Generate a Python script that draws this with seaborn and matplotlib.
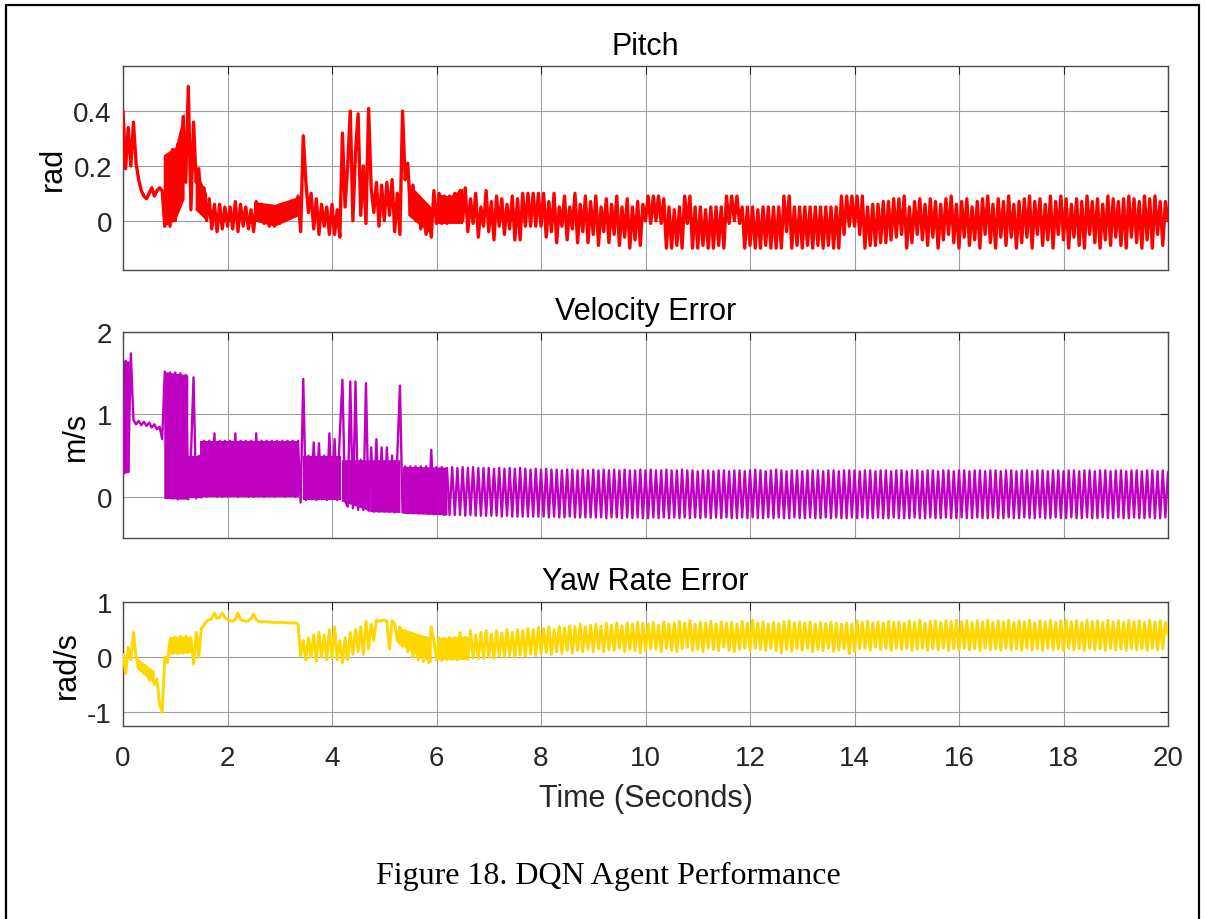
import numpy as np
import pandas as pd
import seaborn as sns
import matplotlib.pyplot as plt
from matplotlib.lines import Line2D

# sample times, 0.05 s step
time_s = np.linspace(0, 20, 401)

# values, in hundredths (one line = one second)
pitch_c = (
    [40, 19, 34, 20, 36, 21, 15, 11, 9, 8, 10, 12, 9, 11, 12, 11, -2, 24, -2, 26] +
    [0, 28, 6, 38, 14, 49, 4, 36, 14, 19, 4, 12, 0, 8, -3, 6, -4, 6, -3, 5] +
    [-2, 5, -3, 7, -4, 6, -2, 5, -3, 4, -4, 7, 0, 6, -1, 5, -2, 5, -2, 5] +
    [-1, 6, 0, 6, 1, 7, 2, 9, -4, 31, 14, 3, 10, -3, 8, -5, 6, -2, 5, -5] +
    [6, -5, 4, -6, 32, 5, 20, 40, 0, 25, 39, 2, 20, -1, 41, 12, 3, 14, -2, 13] +
    [0, 14, 2, 15, -4, 10, -5, 40, 15, 21, 3, 13, 0, 9, -3, 6, -5, 4, -6, 11] +
    [-1, 10, -1, 9, -1, 9, 0, 10, 0, 11, 0, 12, -4, 8, -1, 10, -6, 5, -2, 11] +
    [-4, 7, -7, 9, -2, 8, -5, 6, -3, 9, -7, 8, -7, 10, -2, 10, -2, 10, -2, 10] +
    [-2, 10, -6, 7, -4, 10, -8, 5, -2, 9, -7, 5, -3, 10, -8, 6, -4, 9, -8, 7] +
    [-5, 9, -9, 5, -4, 8, -8, 6, -5, 9, -9, 5, -6, 8, -10, 5, -7, 7, -9, 6] +
    [0, 9, -1, 9, 0, 9, -1, 8, -10, 5, -10, 4, -9, 5, -10, 9, -1, 9, -10, 5] +
    [-10, 5, -9, 4, -10, 5, -10, 5, -9, 5, -10, 9, -1, 9, 0, 9, -1, 5, -10, 5] +
    [-9, 5, -10, 4, -10, 5, -9, 5, -10, 5, -10, 5, -10, 9, -4, 9, -10, 5, -9, 5] +
    [-10, 5, -9, 5, -10, 5, -9, 5, -10, 5, -9, 5, -10, 5, -10, 9, -5, 9, -2, 9] +
    [-2, 9, -5, 9, -10, 5, -9, 6, -9, 6, -8, 7, -8, 7, -7, 8, -6, 8, -5, 9] +
    [-10, 5, -8, 7, -5, 8, -7, 6, -9, 8, -6, 7, -10, 6, -7, 8, -5, 9, -8, 6] +
    [-10, 7, -6, 8, -9, 5, -7, 7, -10, 8, -5, 9, -8, 6, -10, 8, -6, 7, -9, 9] +
    [-6, 6, -10, 7, -8, 8, -6, 9, -10, 7, -5, 8, -9, 6, -7, 9, -10, 7, -5, 9] +
    [-7, 8, -10, 6, -6, 8, -9, 7, -10, 9, -5, 7, -8, 8, -10, 6, -7, 9, -9, 8] +
    [-6, 7, -9, 8, -10, 9, -6, 8, -8, 7, -10, 9, -7, 8, -10, 9, -5, 7, -9, 7] +
    [0]
)

velocity_c = (
    [25, 165, 30, 174, 93, 88, 92, 87, 91, 86, 90, 84, 88, 82, 85, 70, 152, 2, 151, -2] +
    [151, -3, 150, -2, 148, -3, 49, 145, -2, 50, -1, 68, 0, 68, 1, 77, 0, 68, 0, 68] +
    [0, 68, 1, 77, 0, 68, 1, 68, 0, 68, 0, 77, 1, 68, 0, 68, 1, 68, 0, 68] +
    [1, 68, 0, 68, 1, 68, 0, 68, -7, 143, -4, 50, -3, 66, -4, 65, -3, 50, -4, 77] +
    [-3, 70, -4, 77, 142, -5, -12, 140, -14, 140, -16, 45, -16, 138, -17, 60, -18, 70, -18, 60] +
    [-18, 60, -18, 50, -19, 50, 135, -19, 37, -20, 37, -20, 37, -20, 37, -20, 37, -21, 57, -21] +
    [36, -21, 36, -22, 35, -22, 36, -22, 35, -22, 36, -23, 35, -22, 36, -23, 35, -23, 35, -23] +
    [35, -23, 34, -23, 35, -24, 34, -23, 35, -24, 34, -24, 35, -24, 34, -24, 33, -24, 34, -24] +
    [33, -24, 34, -25, 33, -24, 33, -25, 32, -25, 33, -24, 33, -25, 32, -25, 33, -25, 32, -25] +
    [33, -25, 32, -25, 33, -26, 32, -25, 33, -25, 32, -26, 33, -25, 32, -26, 32, -25, 33, -26] +
    [32, -26, 33, -25, 32, -26, 32, -25, 33, -26, 32, -25, 32, -26, 33, -25, 32, -26, 32, -25] +
    [31, -26, 32, -25, 32, -26, 31, -25, 32, -26, 32, -25, 31, -26, 32, -26, 32, -25, 31, -26] +
    [32, -25, 33, -26, 32, -26, 31, -25, 32, -26, 33, -25, 32, -26, 31, -26, 32, -25, 32, -26] +
    [31, -26, 32, -25, 32, -26, 32, -26, 31, -25, 32, -26, 32, -25, 31, -26, 32, -26, 32, -25] +
    [32, -26, 31, -25, 32, -26, 32, -26, 31, -25, 32, -26, 32, -26, 31, -25, 32, -26, 32, -26] +
    [31, -26, 32, -25, 32, -26, 31, -26, 32, -25, 32, -26, 31, -26, 32, -25, 32, -26, 31, -26] +
    [32, -25, 32, -26, 31, -26, 32, -25, 32, -26, 31, -26, 32, -25, 32, -26, 31, -26, 32, -25] +
    [32, -26, 31, -26, 32, -25, 32, -26, 31, -26, 32, -25, 32, -26, 31, -26, 32, -25, 32, -26] +
    [31, -26, 32, -25, 32, -26, 31, -26, 32, -25, 32, -26, 31, -26, 32, -25, 32, -26, 31, -26] +
    [32, -25, 32, -26, 31, -26, 32, -25, 32, -26, 31, -26, 32, -25, 32, -26, 31, -26, 32, -25] +
    [30]
)

yaw_c = (
    [5, -30, 18, -5, 45, 0, -18, -12, -30, -22, -42, -28, -50, -40, -85, -100, 0, -10, 32, 8] +
    [36, 6, 38, 7, 38, 10, 35, -12, 45, 0, 52, 58, 65, 68, 70, 80, 70, 72, 80, 72] +
    [68, 66, 65, 68, 80, 68, 66, 65, 66, 70, 78, 68, 65, 64, 64, 64, 64, 63, 63, 63] +
    [63, 63, 63, 62, 62, 62, 62, 60, 2, 30, -5, 35, 0, 40, -8, 45, 0, 40, -5, 50] +
    [0, 55, -5, 30, -10, 35, -5, 45, 5, 50, 10, 55, 5, 65, 15, 60, 30, 68, 65, 66] +
    [67, 65, 15, 66, 60, 30, 55, 20, 48, 10, 42, 0, 40, -5, 38, -8, 36, -10, 55, 30] +
    [-5, 35, -6, 34, -5, 36, -4, 35, -5, 45, -3, 36, -4, 48, -2, 40, -3, 45, -2, 48] +
    [0, 42, -2, 48, 2, 44, 0, 50, 3, 45, 0, 50, 4, 48, 2, 52, 5, 50, 3, 54] +
    [6, 52, 8, 55, 5, 50, 10, 56, 7, 53, 12, 57, 8, 55, 12, 60, 10, 55, 14, 58] +
    [10, 60, 15, 56, 10, 61, 13, 58, 12, 62, 16, 57, 10, 62, 14, 60, 12, 63, 8, 62] +
    [12, 60, 15, 63, 14, 58, 10, 64, 16, 60, 12, 62, 10, 65, 15, 62, 18, 66, 12, 60] +
    [14, 64, 10, 62, 16, 65, 14, 60, 12, 64, 18, 62, 12, 63, 10, 60, 14, 65, 16, 62] +
    [12, 67, 16, 62, 14, 64, 12, 60, 16, 63, 12, 61, 8, 64, 14, 66, 10, 62, 15, 64] +
    [12, 62, 16, 64, 10, 60, 14, 63, 12, 61, 16, 64, 10, 62, 13, 60, 15, 62, 6, 60] +
    [10, 66, 15, 63, 16, 65, 12, 62, 18, 64, 14, 62, 16, 65, 12, 63, 16, 64, 14, 62] +
    [16, 66, 12, 63, 14, 67, 16, 62, 12, 65, 15, 66, 13, 63, 16, 66, 12, 64, 15, 67] +
    [12, 64, 16, 66, 13, 63, 15, 66, 12, 64, 16, 67, 13, 63, 15, 66, 12, 64, 16, 67] +
    [13, 63, 15, 66, 12, 64, 16, 67, 13, 62, 15, 66, 12, 64, 16, 67, 13, 63, 15, 66] +
    [12, 67, 16, 64, 13, 66, 15, 63, 12, 67, 16, 64, 13, 66, 15, 63, 12, 67, 16, 64] +
    [13, 66, 15, 63, 12, 67, 16, 64, 13, 66, 15, 63, 12, 67, 16, 64, 13, 66, 15, 63] +
    [40]
)

# stretches where the trace is so dense it reads as a solid band (time, low, high)
pitch_band_t = [[0.77, 1.0, 1.17], [1.38, 1.6], [2.5, 2.9, 3.38], [5.45, 5.9], [6.0, 6.25, 6.5]]
pitch_band_lo = [[-0.02, 0.0, 0.08], [0.04, 0.0], [0.0, -0.02, 0.02], [0.02, -0.05], [-0.01, -0.01, -0.01]]
pitch_band_hi = [[0.24, 0.27, 0.40], [0.19, 0.10], [0.07, 0.06, 0.09], [0.14, 0.05], [0.10, 0.09, 0.12]]

vel_band_t = [[0.0, 0.12], [0.78, 1.24], [1.24, 1.47], [1.47, 3.36], [3.45, 4.18],
              [4.18, 4.72], [4.72, 5.3], [5.35, 6.2]]
vel_band_lo = [[0.28, 0.30], [-0.02, -0.03], [-0.02, -0.02], [0.0, 0.0], [-0.04, -0.04],
               [-0.05, -0.17], [-0.18, -0.19], [-0.20, -0.22]]
vel_band_hi = [[1.65, 1.65], [1.52, 1.48], [0.49, 0.49], [0.68, 0.68], [0.50, 0.50],
               [0.45, 0.45], [0.45, 0.45], [0.37, 0.36]]

yaw_band_t = [[0.25, 0.6], [0.88, 1.3], [5.25, 5.9], [6.0, 6.6]]
yaw_band_lo = [[-0.2, -0.48], [0.05, 0.08], [0.25, -0.1], [-0.05, -0.04]]
yaw_band_hi = [[0.0, -0.25], [0.38, 0.38], [0.55, 0.35], [0.35, 0.38]]

titles = ["Pitch", "Velocity Error", "Yaw Rate Error"]
ylabels = ["rad", "m/s", "rad/s"]
yticks = [[0, 0.2, 0.4], [0, 1, 2], [-1, 0, 1]]
ytick_labels = [["0", "0.2", "0.4"], ["0", "1", "2"], ["-1", "0", "1"]]
ylims = [(-0.18, 0.565), (-0.5, 2.0), (-1.25, 1.0)]
xticks = list(range(0, 21, 2))
colors = ["#ff0000", "#c000c0", "#ffd700"]
widths = [2.4, 1.7, 2.1]
caption = "Figure 18. DQN Agent Performance"

df = pd.DataFrame({
    "t": time_s,
    "pitch": np.array(pitch_c) / 100,
    "vel": np.array(velocity_c) / 100,
    "yaw": np.array(yaw_c) / 100,
})
bands = [
    (pitch_band_t, pitch_band_lo, pitch_band_hi),
    (vel_band_t, vel_band_lo, vel_band_hi),
    (yaw_band_t, yaw_band_lo, yaw_band_hi),
]

sns.set_theme(style="white")
plt.rcParams['font.family'] = ['Liberation Sans', 'DejaVu Sans']

fig = plt.figure(figsize=(12.06, 9.2), dpi=100)
W, H = 1206, 920
# axes boxes in pixels: left, top, right, bottom
boxes = [(123, 67, 1168, 271), (123, 333, 1168, 539), (123, 603, 1168, 727)]

for i, col in enumerate(["pitch", "vel", "yaw"]):
    l, t, r, b = boxes[i]
    ax = fig.add_axes([l / W, 1 - b / H, (r - l) / W, (b - t) / H])
    for bt, blo, bhi in zip(*bands[i]):
        ax.fill_between(bt, blo, bhi, color=colors[i], linewidth=0, zorder=2)
    sns.lineplot(data=df, x="t", y=col, ax=ax, color=colors[i],
                 linewidth=widths[i], estimator=None, sort=False, zorder=3)
    ax.set_xlim(0, 20)
    ax.set_ylim(*ylims[i])
    ax.set_xticks(xticks)
    ax.set_yticks(yticks[i])
    ax.set_yticklabels(ytick_labels[i])
    ax.grid(True, color="#a0a0a0", linewidth=0.8)
    ax.set_axisbelow(True)
    ax.tick_params(direction="in", length=5.5, width=0.8, top=True, right=True,
                   labelsize=20, colors="#262626", pad=8)
    ax.tick_params(axis="x", pad=14)
    for s in ax.spines.values():
        s.set_color("#4a4a4a")
        s.set_linewidth(1.0)
    ax.set_title(titles[i], fontsize=22, color="black", pad=9)
    ax.set_ylabel(ylabels[i], fontsize=22, color="black", labelpad=4)
    if i < 2:
        ax.set_xticklabels([])
        ax.set_xlabel("")
    else:
        ax.set_xticklabels([str(v) for v in xticks])
        ax.set_xlabel("Time (Seconds)", fontsize=22, color="#262626", labelpad=8)

fig.text(608 / W, 1 - 876 / H, caption, ha="center", va="center",
         fontsize=23, family=["Liberation Serif", "DejaVu Serif"], color="black")

# page border
x0, x1, y1 = 6 / W, 1199 / W, 1 - 6 / H
fig.add_artist(Line2D([x0, x0], [0, y1], transform=fig.transFigure, color="black", lw=1.6))
fig.add_artist(Line2D([x0, x1], [y1, y1], transform=fig.transFigure, color="black", lw=1.6))
fig.add_artist(Line2D([x1, x1], [0, y1], transform=fig.transFigure, color="black", lw=1.6))

fig.savefig("out.png", dpi=100)
